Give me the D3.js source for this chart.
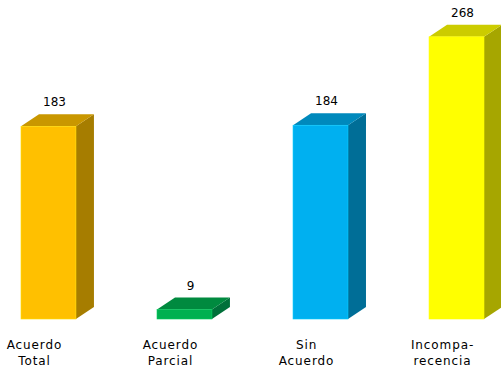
<!DOCTYPE html>
<html><head><meta charset="utf-8">
<script src="https://cdn.jsdelivr.net/npm/d3@7"></script>
<style>body{margin:0;background:#fff}svg{display:block}</style>
</head><body>
<script>
const categories = ["Acuerdo Total", "Acuerdo Parcial", "Sin Acuerdo", "Incompa-recencia"];
const labelLines = [["Acuerdo","Total"],["Acuerdo","Parcial"],["Sin","Acuerdo"],["Incompa-","recencia"]];
const values = [183, 9, 184, 268];
const frontColors = ["#FFC000", "#00B050", "#00B0F0", "#FFFF00"];
const topColors = ["#C99700", "#008A3F", "#0089BC", "#CCCC00"];
const sideColors = ["#A67D00", "#00703A", "#006E97", "#A6A600"];

const W = 501, H = 372;
const svg = d3.select("body").append("svg").attr("width", W).attr("height", H);
const x = d3.scaleBand().domain(categories).range([21, 484]).paddingInner(0.596).paddingOuter(0);
const y = d3.scaleLinear().domain([0, 300]).range([319, 3.1]);
const dx = 18, dy = 12;

const g = svg.append("g");
categories.forEach((c, i) => {
  const x0 = x(c), x1 = x0 + x.bandwidth();
  const yt = y(values[i]), yb = y(0);
  g.append("path").attr("d", `M${x1},${yt}L${x1+dx},${yt-dy}L${x1+dx},${yb-dy}L${x1},${yb}Z`).attr("fill", sideColors[i]);
  g.append("path").attr("d", `M${x0},${yt}L${x0+dx},${yt-dy}L${x1+dx},${yt-dy}L${x1},${yt}Z`).attr("fill", topColors[i]);
  g.append("rect").attr("x", x0).attr("y", yt).attr("width", x.bandwidth()).attr("height", yb - yt)
    .attr("fill", frontColors[i]).attr("stroke", d3.color(frontColors[i]).brighter(0.4)).attr("stroke-width", 0.6);
  g.append("text").attr("x", x0 + x.bandwidth()/2 + 6).attr("y", yt - dy - 8)
    .attr("text-anchor", "middle").attr("font-family", "DejaVu Sans, Verdana, sans-serif")
    .attr("font-size", 12).attr("fill", "#000").text(values[i]);
  const t = g.append("text").attr("text-anchor", "middle").attr("font-family", "DejaVu Sans, Verdana, sans-serif")
    .attr("font-size", 12).attr("letter-spacing", "0.9px").attr("fill", "#000");
  labelLines[i].forEach((ln, j) => {
    t.append("tspan").attr("x", x0 + x.bandwidth()/2 - 14).attr("y", 349 + j*16).text(ln);
  });
});
</script>
</body></html>
